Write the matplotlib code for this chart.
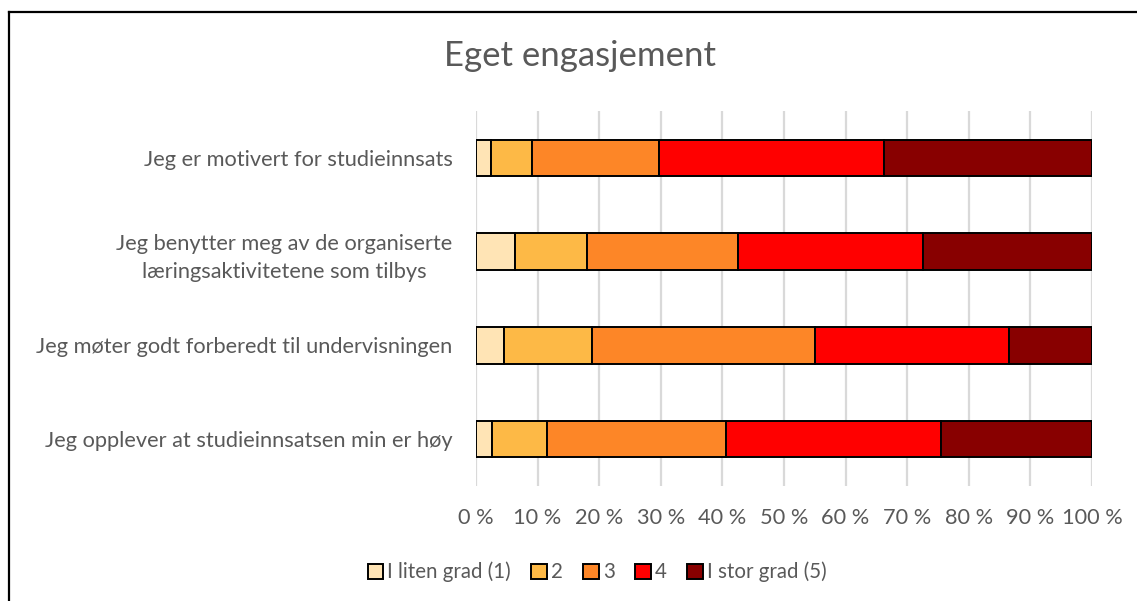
import numpy as np
import matplotlib
matplotlib.use("Agg")
import matplotlib.pyplot as plt
from matplotlib.lines import Line2D

plt.rcParams['font.family'] = ['Lato', 'DejaVu Sans']

statements = ["Jeg er motivert for studieinnsats",
              "Jeg benytter meg av de organiserte\nlæringsaktivitetene som tilbys",
              "Jeg møter godt forberedt til undervisningen",
              "Jeg opplever at studieinnsatsen min er høy"]
levels = ["I liten grad (1)", "2", "3", "4", "I stor grad (5)"]
# percent per statement, one list per answer level
grad1 = [2.4, 6.4, 4.5, 2.6]
grad2 = [6.7, 11.6, 14.3, 8.9]
grad3 = [20.6, 24.6, 36.3, 29.1]
grad4 = [36.5, 30.0, 31.5, 34.9]
grad5 = [33.8, 27.4, 13.4, 24.5]
colors = ["#FFE4B5", "#FDB946", "#FD8627", "#FF0000", "#880000"]

series = [grad1, grad2, grad3, grad4, grad5]
grey = "#595959"

fig = plt.figure(figsize=(11.37, 6.01), dpi=100)
ax = fig.add_axes([476/1137, 1-486/601, 616/1137, 375/601])

y = np.arange(len(statements))
left = np.zeros(len(statements))
for vals, lab, c in zip(series, levels, colors):
    ax.barh(y, vals, left=left, height=0.39, color=c, edgecolor='black',
            linewidth=1.4, label=lab, zorder=3)
    left += np.array(vals)

ax.set_xlim(0, 100)
ax.set_ylim(len(statements) - 0.5, -0.5)
ax.set_xticks(np.arange(0, 101, 10))
ax.set_xticklabels([f"{v} %" for v in range(0, 101, 10)])
ax.set_yticks(y)
ax.set_yticklabels(statements, ha='right', multialignment='center',
                   linespacing=1.5)
ax.tick_params(axis='both', length=0, labelsize=15.7, labelcolor=grey)
ax.tick_params(axis='x', pad=16)
ax.tick_params(axis='y', pad=17)
ax.grid(axis='x', color='#d9d9d9', linewidth=1.6, zorder=0)
for s in ax.spines.values():
    s.set_visible(False)

fig.text(580/1137, 1-56/601, "Eget engasjement", ha='center', va='center',
         fontsize=25, color=grey)

ax.legend(loc='center', bbox_to_anchor=(597/1137, 1-572/601),
          bbox_transform=fig.transFigure, ncol=5, frameon=False,
          fontsize=14.8, labelcolor=grey, handlelength=0.75, handleheight=0.75,
          handletextpad=0.2, columnspacing=1.0)

top = 1 - 11.5/601
fig.lines.append(Line2D([8.5/1137, 8.5/1137], [0, top], transform=fig.transFigure,
                        color='black', linewidth=1.6))
fig.lines.append(Line2D([8.5/1137, 1], [top, top], transform=fig.transFigure,
                        color='black', linewidth=1.6))

fig.savefig("out.png", dpi=100)
